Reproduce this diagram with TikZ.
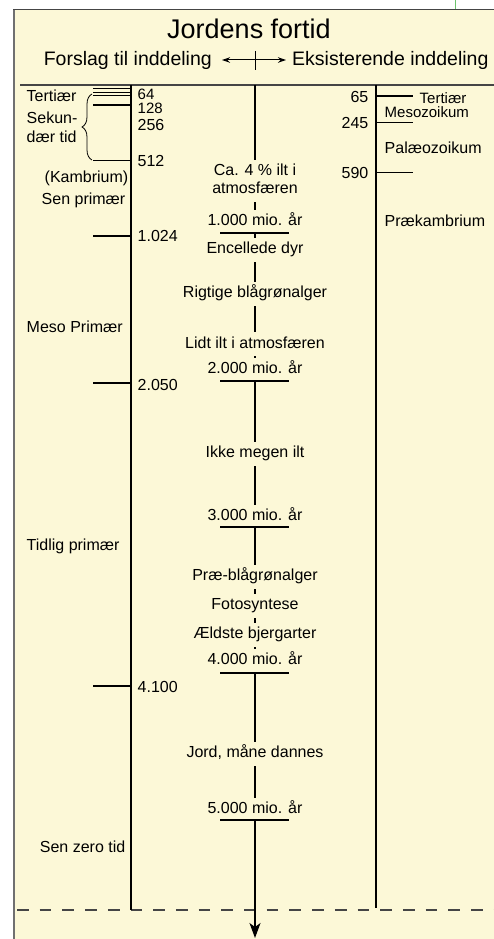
\documentclass[tikz,border=0pt]{standalone}
\usepackage{fontspec}
\setmainfont{Liberation Sans}
\usetikzlibrary{arrows.meta,positioning,decorations.pathreplacing}
\usepackage{xcolor}
\definecolor{paper}{HTML}{FCF8D7}
\definecolor{frame}{HTML}{707070}
\definecolor{rule}{HTML}{454545}
\definecolor{greentick}{HTML}{6CC36C}

\begin{document}
\begin{tikzpicture}[
  x=1pt,y=-1pt,
  lbl/.style={font=\fontsize{16}{19}\selectfont,inner sep=0.5pt,text height=11.5pt,text depth=0pt},
  tight/.style={lbl,font=\fontsize{15}{17}\selectfont,text height=10.8pt},
  era/.style={lbl,fill=paper,inner xsep=3pt,inner ysep=4.5pt,text depth=3.5pt},
  num/.style={lbl,anchor=west},
  rnum/.style={lbl,anchor=east},
  tick/.style={line width=1.2pt},
]
  \useasboundingbox (0,0) rectangle (494,939);
  \fill[paper] (13,9.5) rectangle (494,939);
  \draw[frame,line width=2.5pt] (14,9.5) -- (14,939);
  \draw[rule,line width=1pt] (13,9.5) -- (494,9.5);
  \draw[greentick,line width=1pt] (455,0) -- (455,9.5);

  \node[font=\fontsize{27}{30}\selectfont] (title) at (249,29) {Jordens fortid};
  \node[font=\fontsize{19.5}{22}\selectfont,anchor=east,inner sep=3pt] (prop) at (215,60) {Forslag til inddeling};
  \node[font=\fontsize{19.5}{22}\selectfont,anchor=west,inner sep=3pt] (exist) at (289,60) {Eksisterende inddeling};
  \draw[{Stealth[length=8pt,width=5.5pt]}-{Stealth[length=8pt,width=5.5pt]},line width=1pt,shorten <=7pt,shorten >=3pt] (prop) -- (exist);
  \draw[line width=1pt] (255,51) -- (255,70);

  \draw[rule,line width=1.2pt] (20,85) -- (494,85);
  \draw[rule,line width=1.2pt,dash pattern=on 11.7pt off 11pt] (17,910) -- (494,910);

  \coordinate (ltop) at (131,85);
  \coordinate (lbot) at (131,910);
  \coordinate (ctop) at (255,85);
  \coordinate (cbot) at (255,938);
  \coordinate (rtop) at (376,85);
  \coordinate (rbot) at (376,908);
  \draw[tick] (ltop) -- (lbot);
  \draw[tick] (rtop) -- (rbot);
  \draw[tick,-{Stealth[length=15pt,width=11pt,inset=4pt]}] (ctop) -- (cbot);

  \foreach \y in {89,92.5,96}
    \draw[line width=1pt] (93,\y) -- (131,\y);
  \foreach \y in {105,160.5,236,383,686}
    \draw[tick] (93,\y) -- (131,\y);
  \foreach \y in {96,122.7,172.5}
    \draw[tick] (376,\y) -- (413,\y);
  \draw[line width=0.8pt,decorate,decoration={brace,amplitude=10pt}] (92,160) -- (92,94);

  \node[tight,anchor=west] (n64) at (137,94.3) {64};
  \node[tight,anchor=west] (n128) at (137,108.3) {128};
  \node[num] (n256) at (137,124.5) {256};
  \node[num] (n512) at (137,160.5) {512};
  \node[num] (n1024) at (137,235.5) {1.024};
  \node[num] (n2050) at (137,385) {2.050};
  \node[num] (n4100) at (137,687) {4.100};

  \node[lbl,anchor=west] (tert) at (26,96) {Tertiær};
  \node[lbl,anchor=west] (sek1) at (26,118) {Sekun-};
  \node[lbl,anchor=west] (sek2) at (26,137) {dær tid};
  \node[lbl,anchor=east] (kamb) at (129,177) {(Kambrium)};
  \node[lbl,anchor=east] (senp) at (126,199) {Sen primær};
  \node[lbl,anchor=west] (meso) at (26,327) {Meso Primær};
  \node[lbl,anchor=west] (tidl) at (26,545) {Tidlig primær};
  \node[lbl,anchor=east] (zero) at (126,847) {Sen zero tid};

  \node[rnum] (r65) at (369,97) {65};
  \node[rnum] (r245) at (369,122.5) {245};
  \node[rnum] (r590) at (369,172.5) {590};
  \node[tight,anchor=west] (rtert) at (419,98) {Tertiær};
  \node[tight,anchor=west] (rmeso) at (384,112.3) {Mesozoikum};
  \node[lbl,anchor=west] (rpal) at (384,147.5) {Palæozoikum};
  \node[lbl,anchor=west] (rpre) at (384,221) {Prækambrium};

  \node[era] (ilt1) at (255,171.5) {Ca. 4 \% ilt i};
  \node[era] (ilt2) at (255,189.5) {atmosfæren};
  \node[era] (m1) at (255,221.5) {1.000 mio. år};
  \node[era] (encel) at (255,249.5) {Encellede dyr};
  \node[era] (rigt) at (255,293.5) {Rigtige blågrønalger};
  \node[era] (lidt) at (255,344) {Lidt ilt i atmosfæren};
  \node[era] (m2) at (255,369.5) {2.000 mio. år};
  \node[era] (ikke) at (255,453.5) {Ikke megen ilt};
  \node[era] (m3) at (255,516.5) {3.000 mio. år};
  \node[era] (prae) at (255,576.5) {Præ-blågrønalger};
  \node[era] (foto) at (255,605.5) {Fotosyntese};
  \node[era] (aeld) at (255,634.5) {Ældste bjergarter};
  \node[era] (m4) at (255,660.5) {4.000 mio. år};
  \node[era] (jord) at (255,753.5) {Jord, måne dannes};
  \node[era] (m5) at (255,809.5) {5.000 mio. år};

  \foreach \y in {233,381,527,673,820}
    \draw[tick] (220,\y) -- (289,\y);
  \foreach \y/\h in {233/4.5,381/5,527/5,673/5,820/5}
    \draw[tick] (255,\y) -- ++(0,\h);
\end{tikzpicture}
\end{document}
